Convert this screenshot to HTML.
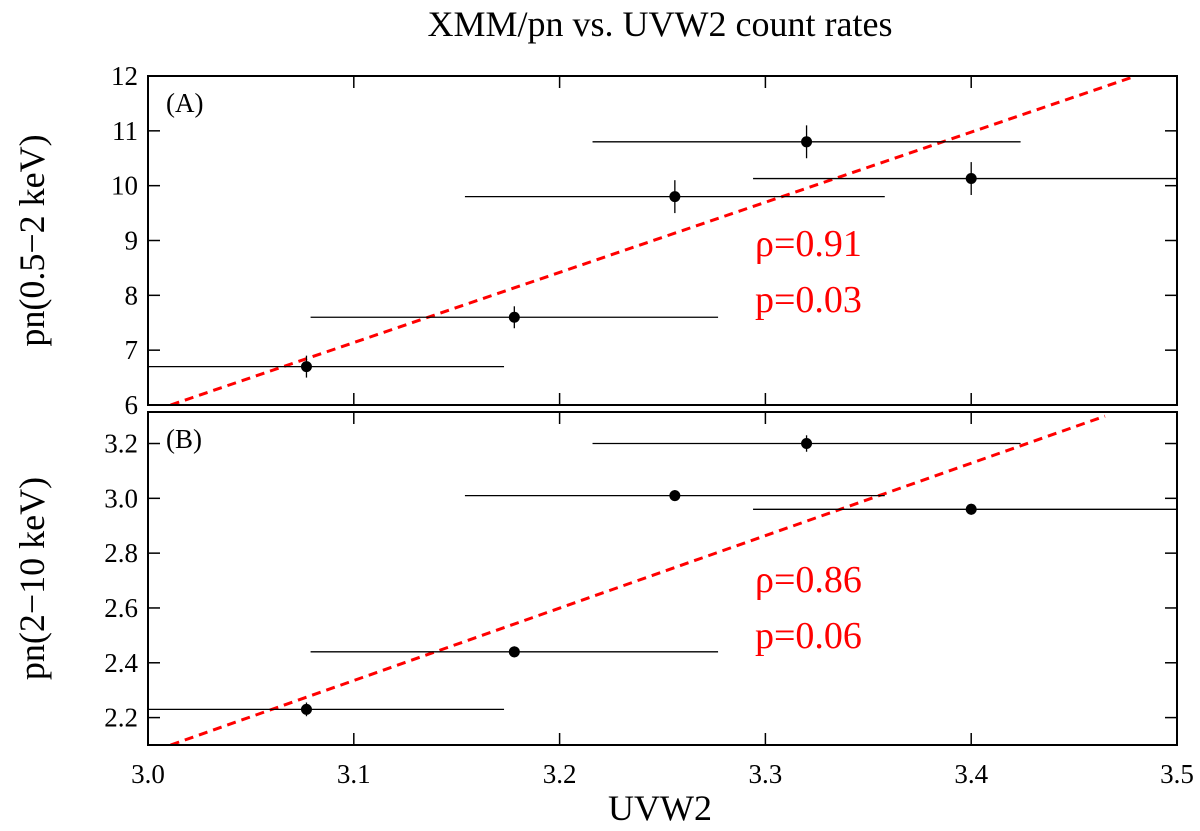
<!DOCTYPE html>
<html><head><meta charset="utf-8"><style>
body{margin:0;background:#fff}
svg text{font-family:"Liberation Serif",serif}
</style></head><body>
<svg id="c" width="1200" height="826" xmlns="http://www.w3.org/2000/svg"></svg>
<script>
const uvw2 = [3.077, 3.178, 3.256, 3.320, 3.400];
const uvw2Err = [0.096, 0.099, 0.102, 0.104, 0.106];
const softRate = [6.7, 7.6, 9.8, 10.8, 10.13];
const softErr = [0.2, 0.2, 0.3, 0.3, 0.3];
const hardRate = [2.23, 2.44, 3.01, 3.20, 2.96];
const hardErr = [0.025, 0.02, 0.02, 0.03, 0.02];
const xTicks = [3.0, 3.1, 3.2, 3.3, 3.4, 3.5];
const yTicksA = [6, 7, 8, 9, 10, 11, 12];
const yTicksB = [2.2, 2.4, 2.6, 2.8, 3.0, 3.2];
const fitA = [[3.011, 6.0], [3.48, 12.0]];
const fitB = [[3.011, 2.1], [3.465, 3.3]];

const NS = "http://www.w3.org/2000/svg";
const svg = document.getElementById('c');
function el(t, a, p) { const e = document.createElementNS(NS, t); for (const k in a) e.setAttribute(k, a[k]); (p || svg).appendChild(e); return e; }
const L = 148, R = 1177;
const xs = v => L + (v - 3.0) / 0.5 * (R - L);

const t = el('text', {x: 660, y: 36, 'font-size': 36, 'text-anchor': 'middle'});
t.textContent = 'XMM/pn vs. UVW2 count rates';



function panel(name, top, bot, ymin, ymax, ticks, fmt, ys, ye, fit, label, rho, pv, ylabel) {
  const g = el('g', {});
  
  
  const ysc = v => bot - (v - ymin) / (ymax - ymin) * (bot - top);
  const clip = el('clipPath', {id: name + '-clip'}, g);
  el('rect', {x: L, y: top, width: R - L, height: bot - top}, clip);
  ticks.forEach(v => {
    const y = ysc(v);
    el('line', {x1: L, x2: L + 12, y1: y, y2: y, stroke: '#000', 'stroke-width': 1.5}, g);
    el('line', {x1: R, x2: R - 12, y1: y, y2: y, stroke: '#000', 'stroke-width': 1.5}, g);
    const tx = el('text', {x: L - 10, y: y + 9, 'font-size': 27, 'text-anchor': 'end'}, g);
    tx.textContent = fmt(v);
    
    
  });
  xTicks.forEach(v => {
    const x = xs(v);
    el('line', {x1: x, x2: x, y1: bot, y2: bot - 12, stroke: '#000', 'stroke-width': 1.5}, g);
    el('line', {x1: x, x2: x, y1: top, y2: top + 12, stroke: '#000', 'stroke-width': 1.5}, g);
  });
  const cg = el('g', {'clip-path': 'url(#' + name + '-clip)'}, g);
  const fl = el('line', {x1: xs(fit[0][0]), y1: ysc(fit[0][1]), x2: xs(fit[1][0]), y2: ysc(fit[1][1]), stroke: '#f00', 'stroke-width': 3, 'stroke-dasharray': '9,6'}, cg);
  
  
  uvw2.forEach((xv, i) => {
    const x = xs(xv), y = ysc(ys[i]);
    el('line', {x1: xs(xv - uvw2Err[i]), x2: xs(xv + uvw2Err[i]), y1: y, y2: y, stroke: '#000', 'stroke-width': 1.3}, cg);
    el('line', {x1: x, x2: x, y1: ysc(ys[i] - ye[i]), y2: ysc(ys[i] + ye[i]), stroke: '#000', 'stroke-width': 1.3}, cg);
    const c = el('circle', {cx: x, cy: y, r: 5.5, fill: '#000'}, cg);
    
    
  });
  el('rect', {x: L, y: top, width: R - L, height: bot - top, fill: 'none', stroke: '#000', 'stroke-width': 2}, g);
  const lb = el('text', {x: 166, y: top + 36, 'font-size': 27}, g); lb.textContent = label;
  const r1 = el('text', {x: 755, y: top + 180, 'font-size': 38, fill: '#f00'}, g); r1.textContent = rho;
  const r2 = el('text', {x: 755, y: top + 236, 'font-size': 38, fill: '#f00'}, g); r2.textContent = pv;
  const yl = el('text', {x: 0, y: 0, 'font-size': 36, 'text-anchor': 'middle', transform: 'translate(44,' + ((top + bot) / 2) + ') rotate(-90)'}, g);
  yl.textContent = ylabel;
  
  
}
panel('panel-a', 76, 405, 6, 12, yTicksA, v => String(v), softRate, softErr, fitA, '(A)', 'ρ=0.91', 'p=0.03', 'pn(0.5−2 keV)');
panel('panel-b', 412, 745, 2.1, 3.315, yTicksB, v => v.toFixed(1), hardRate, hardErr, fitB, '(B)', 'ρ=0.86', 'p=0.06', 'pn(2−10 keV)');
xTicks.forEach(v => {
  const tx = el('text', {x: xs(v), y: 783, 'font-size': 27, 'text-anchor': 'middle'});
  tx.textContent = v.toFixed(1);
  
  
});
const xl = el('text', {x: 660, y: 820, 'font-size': 36, 'text-anchor': 'middle'});
xl.textContent = 'UVW2';


</script>
</body></html>
